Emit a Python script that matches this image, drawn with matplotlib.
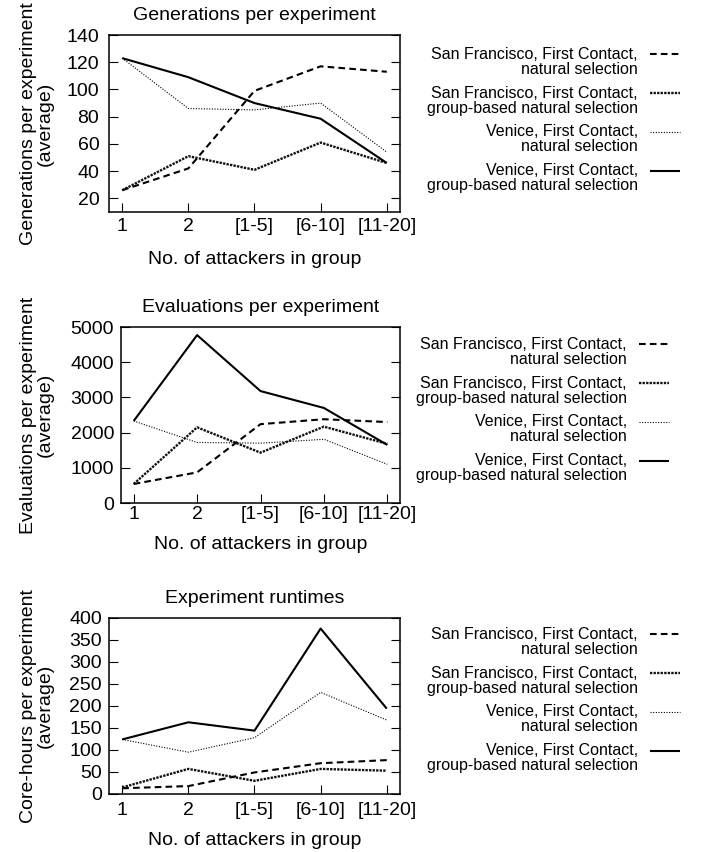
import numpy as np
import matplotlib
matplotlib.use("Agg")
import matplotlib.pyplot as plt
from matplotlib.legend_handler import HandlerLine2D
from matplotlib.lines import Line2D

plt.rcParams['font.family'] = ['Liberation Sans', 'DejaVu Sans']

# ---------------- data ----------------
group_labels = ["1", "2", "[1-5]", "[6-10]", "[11-20]"]
series_names = [
    "San Francisco, First Contact,\nnatural selection",
    "San Francisco, First Contact,\ngroup-based natural selection",
    "Venice, First Contact,\nnatural selection",
    "Venice, First Contact,\ngroup-based natural selection",
]

gen_sf_ns = [26, 42, 99, 117, 113]
gen_sf_gb = [26, 51, 41, 61, 46]
gen_ve_ns = [123, 86, 85, 90, 54]
gen_ve_gb = [123, 109, 90, 78.5, 46]

eval_sf_ns = [540, 870, 2240, 2380, 2300]
eval_sf_gb = [540, 2150, 1430, 2170, 1680]
eval_ve_ns = [2330, 1720, 1700, 1810, 1100]
eval_ve_gb = [2330, 4770, 3180, 2700, 1650]

rt_sf_ns = [13, 18, 49, 70, 77]
rt_sf_gb = [15, 57, 30, 57, 53]
rt_ve_ns = [124, 95, 128, 231, 168]
rt_ve_gb = [124, 163, 144, 376, 194]

titles = ["Generations per experiment", "Evaluations per experiment", "Experiment runtimes"]
ylabels = ["Generations per experiment\n(average)",
           "Evaluations per experiment\n(average)",
           "Core-hours per experiment\n(average)"]
xlabel = "No. of attackers in group"
yticks_gen = [20, 40, 60, 80, 100, 120, 140]
yticks_eval = [0, 1000, 2000, 3000, 4000, 5000]
yticks_rt = [0, 50, 100, 150, 200, 250, 300, 350, 400]

# ---------------- styles ----------------
styles = [
    dict(linestyle=(0, (3.2, 2.0)), linewidth=1.5, color='black'),
    dict(linestyle=(0, (1.0, 0.5)), linewidth=1.7, color='#111111'),
    dict(linestyle=(0, (1.0, 1.4)), linewidth=0.8, color='black'),
    dict(linestyle='-', linewidth=1.5, color='black'),
]

W, H = 704, 852
fig = plt.figure(figsize=(W / 100, H / 100), dpi=100)


def px_axes(left, top, right, bottom):
    return fig.add_axes([left / W, 1 - bottom / H, (right - left) / W, (bottom - top) / H])


class UpHandler(HandlerLine2D):
    def __init__(self, dy, **kw):
        super().__init__(**kw)
        self.dy = dy

    def create_artists(self, legend, orig_handle, xdescent, ydescent, width, height, fontsize, trans):
        arts = super().create_artists(legend, orig_handle, xdescent, ydescent, width, height, fontsize, trans)
        for a in arts:
            a.set_ydata(np.asarray(a.get_ydata(), dtype=float) + self.dy)
        return arts


panels = [
    dict(box=(109, 35, 400, 212), series=[gen_sf_ns, gen_sf_gb, gen_ve_ns, gen_ve_gb],
         ylim=(10, 140), yticks=yticks_gen, leg=(680, 120),
         ypad=7, xpad=4, labelpad=12),
    dict(box=(121, 327, 400, 503), series=[eval_sf_ns, eval_sf_gb, eval_ve_ns, eval_ve_gb],
         ylim=(0, 5000), yticks=yticks_eval, leg=(669, 410),
         ypad=5, xpad=2.5, labelpad=9),
    dict(box=(109, 618, 400, 794), series=[rt_sf_ns, rt_sf_gb, rt_ve_ns, rt_ve_gb],
         ylim=(0, 400), yticks=yticks_rt, leg=(680, 700),
         ypad=5, xpad=6, labelpad=9),
]

x = np.arange(len(group_labels))
for i, p in enumerate(panels):
    ax = px_axes(*p['box'])
    lines = []
    for vals, name, st in zip(p['series'], series_names, styles):
        ln, = ax.plot(x, vals, label=name, dash_capstyle='butt', solid_capstyle='butt', **st)
        lines.append(ln)
    ax.set_xlim(-0.2, 4.2)
    ax.set_ylim(*p['ylim'])
    ax.set_xticks(x, group_labels)
    ax.set_yticks(p['yticks'])
    ax.tick_params(axis='both', direction='in', length=6.5, width=0.8, labelsize=14)
    ax.tick_params(axis='y', right=True, pad=p['ypad'])
    ax.tick_params(axis='x', top=False, pad=p['xpad'])
    for s in ax.spines.values():
        s.set_linewidth(1.1)
    ax.set_title(titles[i], fontsize=14, pad=11)
    ax.set_xlabel(xlabel, fontsize=14, labelpad=p['labelpad'])
    ax.set_ylabel(ylabels[i], fontsize=14, linespacing=1.0)
    l, t, r, b = p['box']
    ax.yaxis.set_label_coords((54 - l) / (r - l), 0.5)

    hm = {ln: UpHandler(5.6) for ln in lines}
    leg = ax.legend(handles=lines, loc='center right',
                    bbox_to_anchor=(p['leg'][0] / W, 1 - p['leg'][1] / H),
                    bbox_transform=fig.transFigure, frameon=False,
                    markerfirst=False, fontsize=11.5, handlelength=1.9,
                    handletextpad=0.75, labelspacing=0.55, borderpad=0,
                    borderaxespad=0, handler_map=hm)
    for t in leg.get_texts():
        t.set_multialignment('right')
        t.set_linespacing(1.0)

fig.savefig("out.png", dpi=100)
